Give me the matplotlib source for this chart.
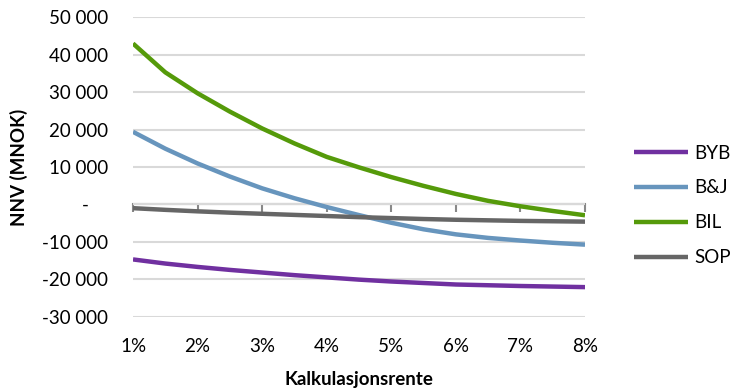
import numpy as np
import matplotlib
matplotlib.use("Agg")
import matplotlib.pyplot as plt
from matplotlib.ticker import FuncFormatter

plt.rcParams["font.family"] = ["Lato", "DejaVu Sans"]

# discount rate (%) in half-percent steps
rates = [1.0, 1.5, 2.0, 2.5, 3.0, 3.5, 4.0, 4.5, 5.0, 5.5, 6.0, 6.5, 7.0, 7.5, 8.0]

# net present value per alternative (MNOK)
byb = [-14700, -15800, -16700, -17500, -18200, -18900, -19500, -20100,
       -20600, -21000, -21400, -21600, -21800, -21950, -22100]
bj = [19400, 14900, 10950, 7450, 4300, 1650, -700, -2850,
      -4900, -6650, -8000, -8950, -9650, -10250, -10750]
bil = [43000, 35300, 29700, 24800, 20300, 16300, 12700, 9900,
       7300, 4950, 2800, 950, -500, -1750, -2900]
sop = [-1000, -1450, -1850, -2200, -2500, -2800, -3100, -3400,
       -3650, -3900, -4100, -4250, -4400, -4500, -4600]

series = [("BYB", byb, "#7030a0"),
          ("B&J", bj, "#6795bd"),
          ("BIL", bil, "#559a0a"),
          ("SOP", sop, "#666666")]

x_ticks = [1, 2, 3, 4, 5, 6, 7, 8]
x_labels = [f"{t}%" for t in x_ticks]
y_ticks = [-30000, -20000, -10000, 0, 10000, 20000, 30000, 40000, 50000]

fig = plt.figure(figsize=(7.32, 3.89), dpi=100)
ax = fig.add_axes([0.1817, 0.1859, 0.6175, 0.7696])

for name, vals, col in series:
    ax.plot(rates, vals, color=col, lw=3.2, label=name, solid_capstyle="butt",
            solid_joinstyle="round", zorder=3)

ax.set_xlim(1, 8)
ax.set_ylim(-30000, 50000)
ax.set_yticks(y_ticks)
ax.set_xticks(x_ticks)
ax.set_xticklabels(x_labels)


def fmt(v, pos):
    if v == 0:
        return "-    "
    return f"{v:,.0f}".replace(",", " ")


ax.yaxis.set_major_formatter(FuncFormatter(fmt))
ax.tick_params(axis="both", length=0, labelsize=13.5, colors="#000000")
ax.tick_params(axis="y", pad=18)
ax.tick_params(axis="x", pad=15)
for s in ax.spines.values():
    s.set_visible(False)

ax.grid(axis="y", color="#d9d9d9", lw=1.5, zorder=0)
ax.grid(axis="x", visible=False)

# horizontal category axis drawn at zero with downward ticks
zero_pos = (0 - ax.get_ylim()[0]) / (ax.get_ylim()[1] - ax.get_ylim()[0])
sec = ax.secondary_xaxis(zero_pos)
sec.set_xticks(x_ticks)
sec.set_xticklabels([])
sec.tick_params(direction="out", length=6, width=1.5, color="#888888")
sec.spines["bottom"].set_color("#888888")
sec.spines["bottom"].set_linewidth(1.5)

ax.set_xlabel("Kalkulasjonsrente", fontsize=13.5, fontweight="bold", labelpad=12)
ax.set_ylabel("NNV (MNOK)", fontsize=13.5, fontweight="bold", labelpad=10)

fig.legend(loc="center left", bbox_to_anchor=(0.866, 0.472), frameon=False,
           fontsize=13.5, handlelength=2.9, handletextpad=0.3, labelspacing=0.95,
           borderpad=0, borderaxespad=0)

fig.savefig("out.png", dpi=100)
